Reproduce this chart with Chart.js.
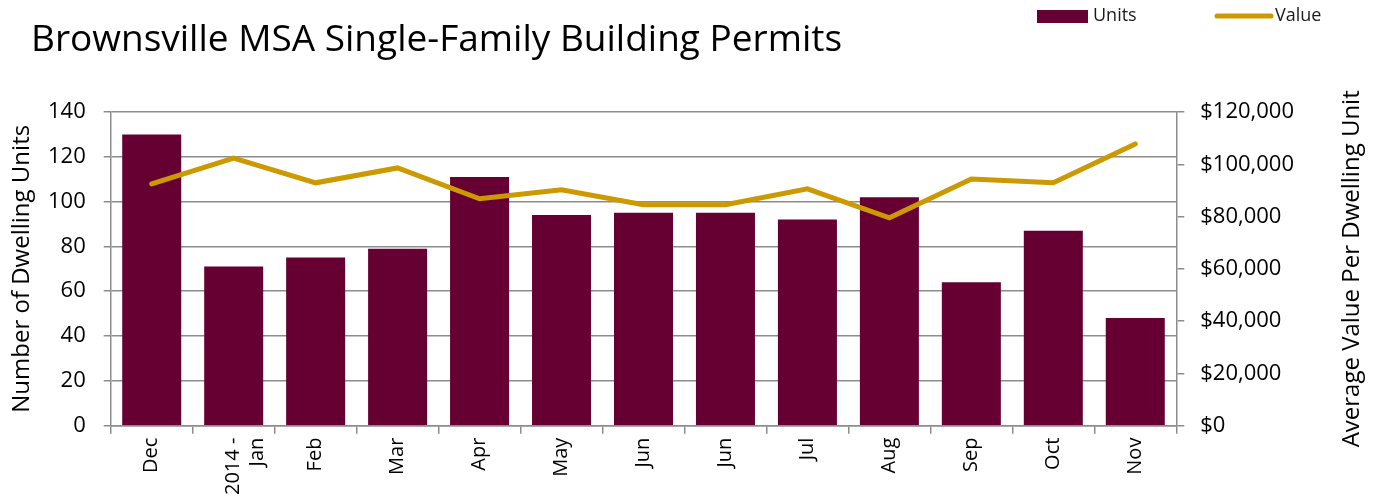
<!DOCTYPE html>
<html><head><meta charset="utf-8">
<script src="https://cdn.jsdelivr.net/npm/chart.js@4/dist/chart.umd.min.js"></script>
<style>html,body{margin:0;padding:0;background:#fff}#wrap{width:1377px;height:503px}</style>
</head><body><div id="wrap"><canvas id="c" width="1377" height="503"></canvas></div>
<script>
const categories = ['Dec', ['2014 -','Jan'], 'Feb', 'Mar', 'Apr', 'May', 'Jun', 'Jun', 'Jul', 'Aug', 'Sep', 'Oct', 'Nov'];
const units = [130, 71, 75, 79, 111, 94, 95, 95, 92, 102, 64, 87, 48];
const values = [92500, 102400, 92900, 98600, 86800, 90200, 84500, 84500, 90600, 79500, 94400, 92900, 107800];
const leftTicks = [0, 20, 40, 60, 80, 100, 120, 140];
const rightTicks = [0, 20000, 40000, 60000, 80000, 100000, 120000];
const chartTitle = 'Brownsville MSA Single-Family Building Permits';
const leftTitle = 'Number of Dwelling Units';
const rightTitle = 'Average Value Per Dwelling Unit';

const FONT = '"Open Sans", sans-serif';
const BAR = '#660033', LINE = '#CC9900', GRID = '#8c8c8c';

const decorPlugin = {
  id: 'decor',
  afterDraw(chart) {
    const ctx = chart.ctx;
    const a = chart.chartArea;
    const midY = (a.top + a.bottom) / 2;
    ctx.save();
    // title
    ctx.fillStyle = '#000';
    ctx.textBaseline = 'middle';
    ctx.textAlign = 'left';
    ctx.font = '37px ' + FONT;
    ctx.fillText(chartTitle, 31, 40);
    // legend
    ctx.font = '18px ' + FONT;
    const ds = chart.data.datasets;
    const bar = ds.find(d => d.type === 'bar');
    const line = ds.find(d => d.type === 'line');
    ctx.fillStyle = bar.backgroundColor;
    ctx.fillRect(1037, 10, 51, 13);
    ctx.fillStyle = '#1a1a1a';
    ctx.fillText(bar.label, 1093, 16);
    ctx.strokeStyle = line.borderColor;
    ctx.lineWidth = 5;
    ctx.lineCap = 'round';
    ctx.beginPath(); ctx.moveTo(1217, 16); ctx.lineTo(1271, 16); ctx.stroke();
    ctx.fillText(line.label, 1275, 16);
    // axis titles (read bottom to top)
    ctx.textAlign = 'center';
    ctx.fillStyle = '#000';
    ctx.font = '24px ' + FONT;
    ctx.save();
    ctx.translate(22, midY);
    ctx.rotate(-Math.PI / 2);
    ctx.fillText(leftTitle, 0, 0);
    ctx.restore();
    ctx.translate(1352, midY);
    ctx.rotate(-Math.PI / 2);
    ctx.fillText(rightTitle, 0, 0);
    ctx.restore();
  }
};

new Chart(document.getElementById('c'), {
  data: {
    labels: categories,
    datasets: [
      { type: 'bar', label: 'Units', data: units, yAxisID: 'y', backgroundColor: BAR,
        barPercentage: 0.72, categoryPercentage: 1, order: 1 },
      { type: 'line', label: 'Value', data: values, yAxisID: 'y2', borderColor: LINE, backgroundColor: LINE,
        borderWidth: 5, pointRadius: 0, tension: 0, order: 0, borderCapStyle: 'round' }
    ]
  },
  options: {
    responsive: false,
    animation: false,
    layout: { padding: { left: 30, right: 67, top: 112, bottom: 4 } },
    plugins: {
      legend: { display: false },
      tooltip: { enabled: false },
      title: { display: false }
    },
    scales: {
      x: {
        offset: true,
        grid: { display: true, drawOnChartArea: false, offset: true, color: GRID, tickLength: 8, lineWidth: 1.5 },
        border: { color: GRID, width: 1.5 },
        ticks: { color: '#000', font: { family: FONT, size: 20 }, minRotation: 90, maxRotation: 90, padding: 4 }
      },
      y: {
        position: 'left', min: 0, max: 140,
        afterBuildTicks: s => { s.ticks = leftTicks.map(v => ({ value: v })); },
        grid: { color: GRID, lineWidth: 1.5, tickLength: 7 },
        border: { color: GRID, width: 1.5 },
        ticks: { color: '#000', font: { family: FONT, size: 22 }, padding: 18 },
        title: { display: false }
      },
      y2: {
        position: 'right', min: 0, max: 120000,
        afterBuildTicks: s => { s.ticks = rightTicks.map(v => ({ value: v })); },
        grid: { drawOnChartArea: false, color: GRID, lineWidth: 1.5, tickLength: 8 },
        border: { color: GRID, width: 1.5 },
        ticks: { color: '#000', font: { family: FONT, size: 22 }, padding: 16,
          callback: v => '$' + v.toLocaleString('en-US') },
        title: { display: false }
      }
    }
  },
  plugins: [decorPlugin]
});
</script></body></html>
